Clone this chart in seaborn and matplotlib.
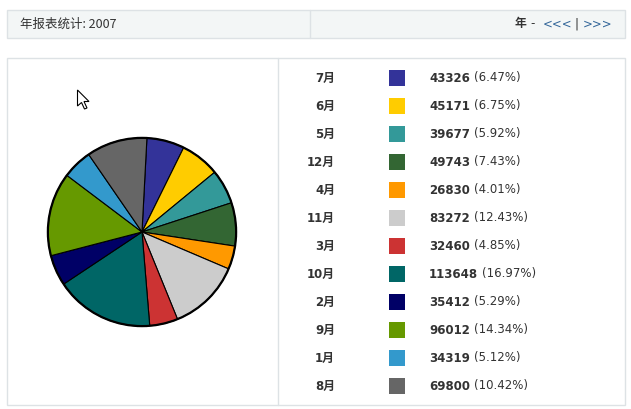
import matplotlib
matplotlib.use("Agg")
import matplotlib.pyplot as plt
from matplotlib.patches import Rectangle, Circle, Polygon
import seaborn as sns

sns.set_theme(style="white")
plt.rcParams["font.family"] = ["DejaVu Sans", "Noto Sans CJK SC"]

# données du tableau, dans l'ordre affiché
mois = ["7月", "6月", "5月", "12月", "4月", "11月", "3月", "10月", "2月", "9月", "1月", "8月"]
valeurs = [43326, 45171, 39677, 49743, 26830, 83272, 32460, 113648, 35412, 96012, 34319, 69800]
pourcentages = [6.47, 6.75, 5.92, 7.43, 4.01, 12.43, 4.85, 16.97, 5.29, 14.34, 5.12, 10.42]
couleurs = ["#333399", "#FFCC00", "#339999", "#336633", "#FF9900", "#CCCCCC",
            "#CC3333", "#006666", "#000066", "#669900", "#3399CC", "#666666"]
annee = 2007

palette = sns.color_palette(couleurs)
W, H = 631, 409
fig = plt.figure(figsize=(W / 100, H / 100), dpi=100)
fig.patch.set_facecolor("white")

fond = fig.add_axes([0, 0, 1, 1])
fond.set_xlim(0, W)
fond.set_ylim(H, 0)
fond.axis("off")

texte = "#333333"
bord = "#dde2e5"

# en-tête
fond.add_patch(Rectangle((7, 10), 618, 28, facecolor="#f3f6f6", edgecolor=bord, lw=1))
fond.plot([310, 310], [10, 38], color=bord, lw=1)
fond.text(20, 24, f"年报表统计: {annee}", fontsize=9, color=texte, va="center",
          family=["Noto Sans CJK SC", "DejaVu Sans"])
fond.text(526, 24, "年", fontsize=8.5, color=texte, va="center", ha="right", weight="bold",
          family=["Noto Sans CJK SC", "DejaVu Sans"])
fond.text(533, 24, "-", fontsize=8.5, color=texte, va="center", ha="center")
fond.text(558, 24, "<<<", fontsize=8.5, color="#336699", va="center", ha="center")
fond.text(577, 24, "|", fontsize=8.5, color=texte, va="center", ha="center")
fond.text(598, 24, ">>>", fontsize=8.5, color="#336699", va="center", ha="center")

# cadre principal
fond.add_patch(Rectangle((7, 58), 618, 347, facecolor="white", edgecolor=bord, lw=1))
fond.plot([278, 278], [58, 405], color=bord, lw=1)

# curseur de souris visible sur la capture
fleche = [(0, 0), (0, 16), (4, 12.5), (7, 19), (9.5, 18), (6.5, 11.5), (11.5, 11.5)]
fond.add_patch(Polygon([(77.5 + dx, 90 + dy) for dx, dy in fleche], closed=True,
                       facecolor="white", edgecolor="black", lw=0.8, zorder=5))

# légende
for i, (m, v, p) in enumerate(zip(mois, valeurs, pourcentages)):
    y = 78 + i * 28
    fond.text(335, y, m, fontsize=8.5, color=texte, va="center", ha="right", weight="bold",
              family=["DejaVu Sans", "Noto Sans CJK SC"])
    fond.add_patch(Rectangle((389, y - 8), 16, 16, facecolor=palette[i], edgecolor="none"))
    t = fond.text(429, y, f"{v}", fontsize=8.5, color=texte, va="center", ha="left", weight="bold")
    fond.annotate(f"({p:.2f}%)", xy=(1, 0.5), xycoords=t, xytext=(3, 0),
                  textcoords="offset points", fontsize=8.5, color=texte,
                  va="center", ha="left")

# camembert
cx, cy, r = 142, 232, 96
ax = fig.add_axes([(cx - r) / W, (H - cy - r) / H, 2 * r / W, 2 * r / H])
ax.pie(valeurs, colors=palette, startangle=87, counterclock=False,
       wedgeprops=dict(edgecolor="black", linewidth=0.8), radius=1)
ax.add_patch(Circle((0, 0), 1, fill=False, edgecolor="black", lw=1.6))
ax.set_xlim(-1.02, 1.02)
ax.set_ylim(-1.02, 1.02)
ax.set_aspect("equal")
ax.axis("off")

fig.savefig("out.png", dpi=100, facecolor="white")
